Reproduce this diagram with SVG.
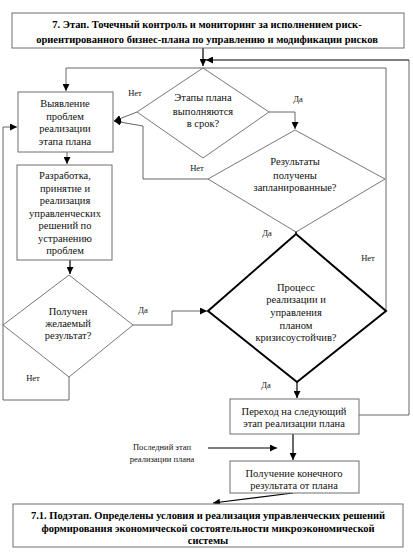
<svg xmlns="http://www.w3.org/2000/svg" width="413" height="556" viewBox="0 0 413 556">
<defs>
<marker id="ah" viewBox="0 0 10 10" refX="10" refY="5" markerWidth="7" markerHeight="7" markerUnits="userSpaceOnUse" orient="auto">
<path d="M0,0 L10,5 L0,10 z" fill="#000"/>
</marker>
</defs>
<style>
.box{fill:#fff;stroke:#6e6e6e;stroke-width:1}
.dia{fill:#fff;stroke:#555;stroke-width:0.8}
.big{fill:#fff;stroke:#000;stroke-width:2}
.t{font-family:"Liberation Serif","Times New Roman",serif;font-size:10.5px;fill:#111;text-anchor:middle}
.b{font-family:"Liberation Serif","Times New Roman",serif;font-size:10.5px;font-weight:bold;fill:#000;text-anchor:middle}
.l{font-family:"Liberation Serif","Times New Roman",serif;font-size:8.5px;fill:#111;text-anchor:middle}
.c{fill:none;stroke:#555;stroke-width:0.9}
.k{fill:none;stroke:#000;stroke-width:1.2}
</style>
<rect width="413" height="556" fill="#fff"/>
<g id="connectors">
<path class="k" d="M203,48 V66" marker-end="url(#ah)"/>
<path class="c" d="M359,415 H409 V60" />
<path class="k" d="M409,60 H206" marker-end="url(#ah)"/>
<path class="c" d="M386,311 V68 H66 V91" marker-end="url(#ah)"/>
<path class="c" d="M137,112 L114,121" marker-end="url(#ah)"/>
<path class="c" d="M269,112 H295 V129" marker-end="url(#ah)"/>
<path class="c" d="M208,179 H143 V126 L114,121" marker-end="url(#ah)"/>
<path class="c" d="M296,226 V234" marker-end="url(#ah)"/>
<path class="c" d="M67,152 V164" marker-end="url(#ah)"/>
<path class="k" d="M70,260 V274" marker-end="url(#ah)"/>
<path class="c" d="M133,325 H172 V311 H207" marker-end="url(#ah)"/>
<path class="c" d="M69,377 V400 H3 V127 H17" marker-end="url(#ah)"/>
<path class="k" d="M297,382 V398" marker-end="url(#ah)"/>
<path class="k" d="M293,434 V460" marker-end="url(#ah)"/>
<path class="k" d="M208,448 H277" marker-end="url(#ah)"/>
<path class="k" d="M293,493 L213,503" marker-end="url(#ah)"/>
<text class="l" x="135" y="96">Нет</text>
<text class="l" x="298" y="102">Да</text>
<text class="l" x="197" y="171">Нет</text>
<text class="l" x="267" y="236">Да</text>
<text class="l" x="368" y="261">Нет</text>
<text class="l" x="143" y="313">Да</text>
<text class="l" x="33" y="381">Нет</text>
<text class="l" x="266" y="388">Да</text>
</g>
<g id="stage7">
<rect class="box" x="12" y="13" width="392" height="35"/>
<text class="b" x="207" y="28">7. Этап. Точечный контроль и мониторинг за исполнением риск-</text>
<text class="b" x="207" y="43">ориентированного бизнес-плана по управлению и модификации рисков</text>
</g>
<g id="d1">
<polygon class="dia" points="203,68 269,112 203,158 137,112"/>
<text class="t" x="203" y="101">Этапы плана</text>
<text class="t" x="203" y="115">выполняются</text>
<text class="t" x="203" y="127">в срок?</text>
</g>
<g id="d2">
<polygon class="dia" points="295,130 385,179 296,232 208,179"/>
<text class="t" x="295" y="165">Результаты</text>
<text class="t" x="295" y="179">получены</text>
<text class="t" x="295" y="191">запланированные?</text>
</g>
<g id="identify">
<rect class="box" x="18" y="92" width="95" height="60"/>
<text class="t" x="65" y="107">Выявление</text>
<text class="t" x="65" y="120">проблем</text>
<text class="t" x="65" y="132">реализации</text>
<text class="t" x="65" y="145">этапа плана</text>
</g>
<g id="develop">
<rect class="box" x="17" y="165" width="95" height="95"/>
<text class="t" x="65" y="179">Разработка,</text>
<text class="t" x="65" y="192">принятие и</text>
<text class="t" x="65" y="204">реализация</text>
<text class="t" x="65" y="217">управленческих</text>
<text class="t" x="65" y="229">решений по</text>
<text class="t" x="65" y="242">устранению</text>
<text class="t" x="65" y="254">проблем</text>
</g>
<g id="d4">
<polygon class="dia" points="69,275 133,325 69,377 3,325"/>
<text class="t" x="68" y="315">Получен</text>
<text class="t" x="68" y="327">желаемый</text>
<text class="t" x="68" y="339">результат?</text>
</g>
<g id="d3">
<polygon class="big" points="296,234 386,311 297,382 208,311"/>
<text class="t" x="296" y="291">Процесс</text>
<text class="t" x="296" y="303">реализации и</text>
<text class="t" x="296" y="315.5">управления</text>
<text class="t" x="296" y="328.5">планом</text>
<text class="t" x="296" y="340.5">кризисоустойчив?</text>
</g>
<g id="next">
<rect class="box" x="230" y="399" width="129" height="35"/>
<text class="t" x="294" y="415">Переход на следующий</text>
<text class="t" x="294" y="427">этап реализации плана</text>
</g>
<g id="last">
<text class="l" x="162" y="450">Последний этап</text>
<text class="l" x="162" y="462">реализации плана</text>
</g>
<g id="result">
<rect class="box" x="230" y="461" width="129" height="32"/>
<text class="t" x="294" y="477">Получение конечного</text>
<text class="t" x="294" y="489">результата от плана</text>
</g>
<g id="stage71">
<rect class="box" x="13" y="504" width="390" height="43"/>
<text class="b" x="208" y="519">7.1. Подэтап. Определены условия и реализация управленческих решений</text>
<text class="b" x="208" y="531.5">формирования экономической состоятельности микроэкономической</text>
<text class="b" x="208" y="544">системы</text>
</g>
</svg>
